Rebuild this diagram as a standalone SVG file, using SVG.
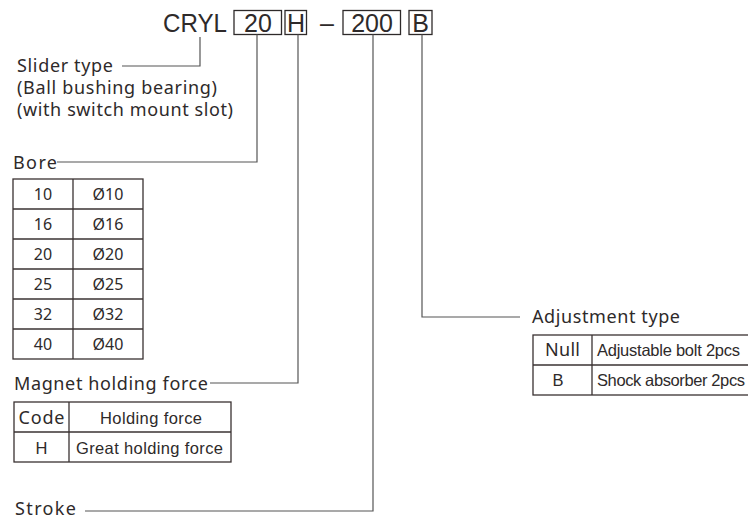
<svg xmlns="http://www.w3.org/2000/svg" width="748" height="520" viewBox="0 0 748 520">
<style>
.lbl{font-family:"Noto Sans","Open Sans","DejaVu Sans",sans-serif;font-size:18px;fill:#2e2a2a}
.num{font-family:"Noto Sans","Open Sans","DejaVu Sans",sans-serif;font-size:16px;fill:#2e2a2a;text-anchor:middle}
.ar{font-family:"Liberation Sans",Arial,sans-serif;font-size:16.5px;fill:#2e2a2a}
.code{font-family:"Liberation Sans",Arial,sans-serif;font-size:25px;fill:#2e2a2a}
.box{fill:none;stroke:#2e2a2a;stroke-width:1.3}
.tbl{fill:none;stroke:#3a3232;stroke-width:1.3}
.ln{fill:none;stroke:#555;stroke-width:1.2}
</style>
<rect width="748" height="520" fill="#fff"/>
<g id="model-code">
<text class="code" x="163" y="32" textLength="64" lengthAdjust="spacingAndGlyphs">CRYL</text>
<rect class="box" x="234" y="10.5" width="47.5" height="24"/>
<text class="code" x="258" y="32" text-anchor="middle">20</text>
<rect class="box" x="285" y="10.5" width="21.5" height="24"/>
<text class="code" x="296" y="32" text-anchor="middle">H</text>
<text class="code" x="327" y="32" text-anchor="middle" font-size="18">–</text>
<rect class="box" x="343" y="10.5" width="57.5" height="24"/>
<text class="code" x="372" y="32" text-anchor="middle">200</text>
<rect class="box" x="409" y="10.5" width="23" height="24"/>
<text class="code" x="420.5" y="32" text-anchor="middle">B</text>
</g>
<g id="connectors">
<polyline class="ln" points="200,37 200,66 122,66"/>
<polyline class="ln" points="257,34.5 257,162 57,162"/>
<polyline class="ln" points="298,34.5 298,383 210,383"/>
<polyline class="ln" points="373,34.5 373,511 85,511"/>
<polyline class="ln" points="422,34.5 422,317 520,317"/>
</g>
<g id="slider-type">
<text class="lbl" x="17" y="72" textLength="96" lengthAdjust="spacing">Slider type</text>
<text class="lbl" x="17" y="94" textLength="200" lengthAdjust="spacing">(Ball bushing bearing)</text>
<text class="lbl" x="17" y="116" textLength="216" lengthAdjust="spacing">(with switch mount slot)</text>
</g>
<g id="bore">
<text class="lbl" x="13" y="169" textLength="44" lengthAdjust="spacing">Bore</text>
<rect class="tbl" x="13" y="179" width="130" height="180"/>
<line class="tbl" x1="73" y1="179" x2="73" y2="359"/>
<line class="tbl" x1="13" y1="209" x2="143" y2="209"/>
<line class="tbl" x1="13" y1="239" x2="143" y2="239"/>
<line class="tbl" x1="13" y1="269" x2="143" y2="269"/>
<line class="tbl" x1="13" y1="299" x2="143" y2="299"/>
<line class="tbl" x1="13" y1="329" x2="143" y2="329"/>
<text class="num" x="43" y="200">10</text><text class="num" x="108" y="200">Ø10</text>
<text class="num" x="43" y="230">16</text><text class="num" x="108" y="230">Ø16</text>
<text class="num" x="43" y="260">20</text><text class="num" x="108" y="260">Ø20</text>
<text class="num" x="43" y="290">25</text><text class="num" x="108" y="290">Ø25</text>
<text class="num" x="43" y="320">32</text><text class="num" x="108" y="320">Ø32</text>
<text class="num" x="43" y="350">40</text><text class="num" x="108" y="350">Ø40</text>
</g>
<g id="magnet">
<text class="lbl" x="14" y="390" textLength="194" lengthAdjust="spacing">Magnet holding force</text>
<rect class="tbl" x="14" y="402" width="217" height="60"/>
<line class="tbl" x1="69" y1="402" x2="69" y2="462"/>
<line class="tbl" x1="14" y1="432" x2="231" y2="432"/>
<text class="lbl" x="41.5" y="424" text-anchor="middle" textLength="46" lengthAdjust="spacing">Code</text>
<text class="ar" x="100" y="424" textLength="102" lengthAdjust="spacing">Holding force</text>
<text class="ar" x="41.5" y="454" text-anchor="middle">H</text>
<text class="ar" x="76" y="454" textLength="147" lengthAdjust="spacing">Great holding force</text>
</g>
<g id="stroke">
<text class="lbl" x="15" y="515" textLength="61" lengthAdjust="spacing">Stroke</text>
</g>
<g id="adjustment">
<text class="lbl" x="532" y="323" textLength="148" lengthAdjust="spacing">Adjustment type</text>
<rect class="tbl" x="533" y="335" width="220" height="60"/>
<line class="tbl" x1="592" y1="335" x2="592" y2="395"/>
<line class="tbl" x1="533" y1="365" x2="753" y2="365"/>
<text class="lbl" x="545" y="356" textLength="35" lengthAdjust="spacing">Null</text>
<text class="ar" x="597" y="356" textLength="143" lengthAdjust="spacing">Adjustable bolt 2pcs</text>
<text class="ar" x="558" y="386" text-anchor="middle">B</text>
<text class="ar" x="597" y="386" textLength="148" lengthAdjust="spacing">Shock absorber 2pcs</text>
</g>
</svg>
